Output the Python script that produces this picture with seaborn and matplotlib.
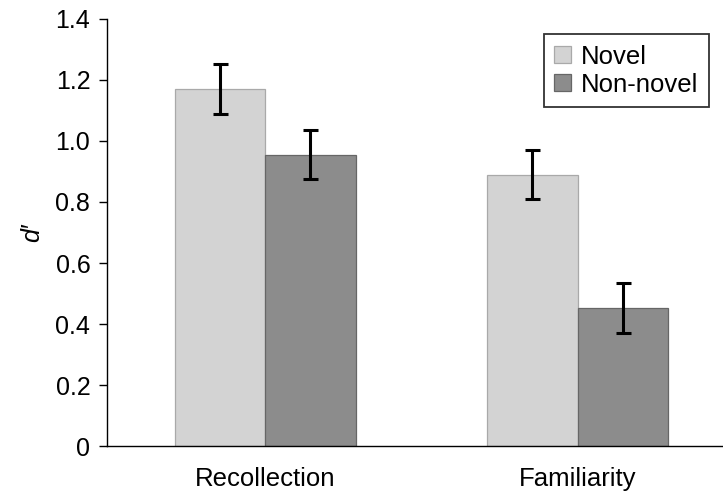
import pandas as pd
import numpy as np
import matplotlib.pyplot as plt
import seaborn as sns
from matplotlib.ticker import FuncFormatter

# Values
categories = ['Recollection', 'Familiarity']
groups = ['Novel', 'Non-novel']
novel_vals = [1.172, 0.890]
nonnovel_vals = [0.955, 0.453]
novel_err = [0.082, 0.079]
nonnovel_err = [0.080, 0.081]
colors = ['#d3d3d3', '#8c8c8c']
edges = ['#a9a9a9', '#666666']

df = pd.DataFrame({
    'measure': categories * 2,
    'group': [groups[0]] * 2 + [groups[1]] * 2,
    'dprime': novel_vals + nonnovel_vals,
})
errs = novel_err + nonnovel_err

sns.set_style('white', rc={'text.color': 'black', 'axes.labelcolor': 'black',
                           'xtick.color': 'black', 'ytick.color': 'black'})
plt.rcParams['font.family'] = ['Liberation Sans', 'DejaVu Sans']

fig = plt.figure(figsize=(7.23, 4.93), dpi=100)
ax = fig.add_axes([0.148, 0.0953, 0.85, 0.8662])

sns.barplot(data=df, x='measure', y='dprime', hue='group', order=categories,
            hue_order=groups, palette=colors, width=0.58, errorbar=None,
            linewidth=0.9, saturation=1, ax=ax)

# error bars on the bar centres placed by seaborn
bars = [p for p in ax.patches if p.get_height() > 0][:4]
for i, (p, e) in enumerate(zip(bars, errs)):
    p.set_edgecolor(edges[i // 2])
    ax.errorbar(p.get_x() + p.get_width() / 2, p.get_height(), yerr=e,
                fmt='none', ecolor='black', elinewidth=2.2, capsize=5.4, capthick=2.2)

ax.set_ylim(0, 1.4)
ax.set_xlim(-0.506, 1.46)
ax.set_yticks(np.arange(0, 1.41, 0.2))
ax.yaxis.set_major_formatter(FuncFormatter(lambda v, _: '0' if abs(v) < 1e-9 else f'{v:.1f}'))
ax.tick_params(axis='y', direction='out', length=6, width=1, color='black',
               labelcolor='black', labelsize=18, pad=6, left=True)
ax.tick_params(axis='x', length=0, labelsize=18.5, labelcolor='black', pad=15)
ax.set_xlabel('')
ax.set_ylabel('d\u2032', fontsize=18, style='italic', labelpad=8, color='black')

for s in ['top', 'right']:
    ax.spines[s].set_visible(False)
for s in ['left', 'bottom']:
    ax.spines[s].set_color('black')
    ax.spines[s].set_linewidth(1)

leg = ax.legend(loc='upper right', bbox_to_anchor=(0.9795, 0.965), borderaxespad=0,
                fontsize=18.5, frameon=True, fancybox=False, edgecolor='black',
                handlelength=0.65, handleheight=0.65, handletextpad=0.38,
                borderpad=0.42, labelspacing=0.15)
leg.get_frame().set_linewidth(1.3)
for t in leg.get_texts():
    t.set_color('black')
for h, ec in zip(leg.get_patches(), edges):
    h.set_edgecolor(ec)

plt.savefig('out.png', dpi=100)
plt.close()
